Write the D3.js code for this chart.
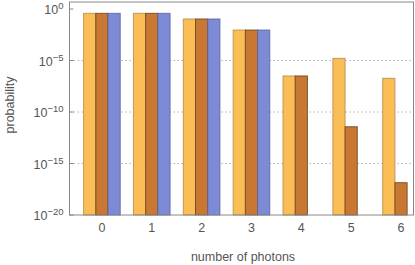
<!DOCTYPE html>
<html>
<script src='https://d3js.org/d3.v7.min.js'></script>
<style>
	body {margin: 0; background: white; }
	svg {display: block; font-family: "Liberation Sans", Arial, sans-serif; }
</style>
<body>
<svg id="chart" width="415" height="265"></svg>
<script>
// photon numbers on the x axis
const photons = [0, 1, 2, 3, 4, 5, 6];
// log10 of probability for each of the three series (null = no bar)
const seriesA = [-0.42, -0.42, -0.97, -2.04, -6.5, -4.79, -6.73];
const seriesB = [-0.42, -0.42, -0.97, -2.04, -6.5, -11.43, -16.86];
const seriesC = [-0.42, -0.42, -0.97, -2.04, null, null, null];
const yTicks = [0, -5, -10, -15, -20];
const gridTicks = [-5, -10, -15];

const svg = d3.select("#chart"),
	margin = {top: 2, right: 1.5, bottom: 50, left: 69.5},
	width = +svg.attr("width"),
	height = +svg.attr("height");

const fills = ["#fbbd55", "#c87833", "#7d8ad5"];
const strokes = ["#b08a4a", "#6a3e18", "#5a6199"];

// x: each photon group is 50px apart, centered on the label
const x = d3.scaleLinear()
	.domain([-0.65, 6.25])
	.range([margin.left, width - margin.right]);

const y = d3.scaleLinear()
	.domain([-20, 0.68])
	.range([height - margin.bottom, margin.top]);

const barW = x(0.245) - x(0);

// gridlines
svg.append("g")
	.selectAll("line")
	.data(gridTicks)
	.join("line")
	.attr("x1", margin.left)
	.attr("x2", width - margin.right)
	.attr("y1", d => y(d))
	.attr("y2", d => y(d))
	.attr("stroke", "#b0b0b0")
	.attr("stroke-width", 1)
	.attr("stroke-dasharray", "1.5,2.5");

const series = [seriesA, seriesB, seriesC];
series.forEach((vals, si) => {
	svg.append("g")
		.selectAll("rect")
		.data(photons.map((p, i) => ({p, v: vals[i]})).filter(d => d.v !== null))
		.join("rect")
		.attr("x", d => x(d.p) + (si - 1.5) * barW)
		.attr("width", barW)
		.attr("y", d => y(d.v))
		.attr("height", d => y(-20) - y(d.v))
		.attr("fill", fills[si])
		.attr("stroke", strokes[si])
		.attr("stroke-opacity", 0.8)
		.attr("stroke-width", 1);
});

// frame
svg.append("rect")
	.attr("x", margin.left)
	.attr("y", margin.top)
	.attr("width", width - margin.right - margin.left)
	.attr("height", height - margin.bottom - margin.top)
	.attr("fill", "none")
	.attr("stroke", "#888")
	.attr("stroke-width", 1);

// y ticks and labels
const yAxis = svg.append("g");
yTicks.forEach(t => {
	yAxis.append("line")
		.attr("x1", margin.left)
		.attr("x2", margin.left + 4)
		.attr("y1", y(t))
		.attr("y2", y(t))
		.attr("stroke", "#888");
	const txt = yAxis.append("text")
		.attr("x", margin.left - 6)
		.attr("y", y(t) + 5)
		.attr("text-anchor", "end")
		.attr("fill", "#555")
		.attr("font-size", 12.5);
	txt.append("tspan").text("10");
	txt.append("tspan")
		.attr("dy", -5)
		.attr("font-size", 9.5)
		.text(t === 0 ? "0" : "\u2212" + (-t));
});

// x labels
svg.append("g")
	.selectAll("text")
	.data(photons)
	.join("text")
	.attr("x", d => x(d))
	.attr("y", height - margin.bottom + 17)
	.attr("text-anchor", "middle")
	.attr("fill", "#555")
	.attr("font-size", 12.5)
	.text(d => d);

svg.append("text")
	.attr("x", 243)
	.attr("y", 261)
	.attr("text-anchor", "middle")
	.attr("fill", "#555")
	.attr("font-size", 12.5)
	.text("number of photons");

svg.append("text")
	.attr("transform", "rotate(-90)")
	.attr("x", -105)
	.attr("y", 14)
	.attr("text-anchor", "middle")
	.attr("fill", "#555")
	.attr("font-size", 12.5)
	.text("probability");
</script>
</body>
</html>
